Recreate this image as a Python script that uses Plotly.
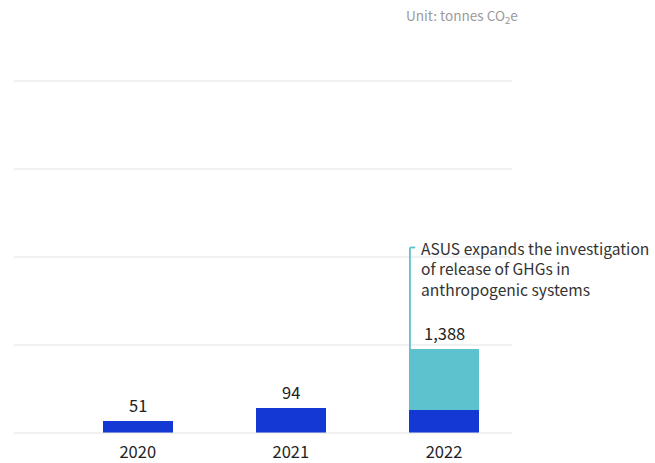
import math
import plotly.graph_objects as go

# GHG emissions by year (tonnes CO2e)
years = ["2020", "2021", "2022"]
base_emissions = [51, 94, 87]          # existing inventory scope
added_emissions = [0, 0, 1301]         # anthropogenic-system releases added in 2022
totals = [51, 94, 1388]
total_labels = ["51", "94", "1,388"]
callout_text = "ASUS expands the investigation<br>of release of GHGs in<br>anthropogenic systems"
unit_text = "Unit: tonnes CO<sub>2</sub>e"

DARK_BLUE = "#1338d3"
TEAL = "#5dc2ce"
GRID = "#e3e3e3"
FONT = "Noto Sans CJK JP"

W, H = 655, 463
ML, MR, MT, MB = 14, 143, 80.5, 29.5
plot_w = W - ML - MR
plot_h = H - MT - MB

bar_w = 0.457
y_lo, y_hi = 1.471, 8.489  # log10 axis range

fig = go.Figure()
fig.add_trace(go.Bar(x=years, y=base_emissions, width=bar_w,
                     marker=dict(color=DARK_BLUE, line=dict(width=0)),
                     hoverinfo="skip"))
fig.add_trace(go.Bar(x=years, y=added_emissions, width=bar_w,
                     marker=dict(color=TEAL, line=dict(width=0)),
                     hoverinfo="skip"))

# total labels above each stack (category index positions)
for i, (tot, lab) in enumerate(zip(totals, total_labels)):
    fig.add_annotation(x=i, y=math.log10(tot), text=lab, showarrow=False,
                       yanchor="bottom", yshift=2,
                       font=dict(family=FONT, size=16.5, color="#222222"))

# horizontal gridlines (evenly spaced, unlabeled)
shapes = []
for i in range(5):
    shapes.append(dict(type="line", xref="paper", yref="paper", x0=0, x1=1,
                       y0=i / 4, y1=i / 4, layer="above" if i == 0 else "below",
                       line=dict(color=GRID, width=1.2)))

# callout bracket on the 2022 bar
cx = 2 - bar_w / 2 + 0.006
shapes.append(dict(type="line", xref="x", yref="paper", x0=cx, x1=cx,
                   y0=0.161, y1=0.527, layer="above",
                   line=dict(color=TEAL, width=1.8)))
shapes.append(dict(type="line", xref="x", yref="paper", x0=cx, x1=cx + 0.035,
                   y0=0.527, y1=0.527, layer="above",
                   line=dict(color=TEAL, width=1.8)))

fig.add_annotation(x=cx, xref="x", xshift=9, xanchor="left",
                   y=0.527, yref="paper", yanchor="top", yshift=12,
                   text=callout_text, showarrow=False, align="left",
                   font=dict(family=FONT, size=15.6, color="#333333"))

fig.add_annotation(x=(520 - ML) / plot_w, xref="paper",
                   y=(H - MB - 15.5) / plot_h, yref="paper",
                   text=unit_text, showarrow=False, xanchor="right", yanchor="middle",
                   font=dict(family=FONT, size=13.6, color="#9a9a9a"))

fig.update_layout(
    width=W, height=H,
    margin=dict(l=ML, r=MR, t=MT, b=MB, autoexpand=False),
    paper_bgcolor="white", plot_bgcolor="white",
    barmode="stack", bargap=0, showlegend=False,
    shapes=shapes,
    font=dict(family=FONT, color="#333333"),
    xaxis=dict(type="category", range=[-0.808, 2.444], showgrid=False,
               zeroline=False, showline=False, ticks="", automargin=False,
               ticklabelstandoff=7,
               tickfont=dict(family=FONT, size=16.5, color="#222222"),
               fixedrange=True),
    yaxis=dict(type="log", range=[y_lo, y_hi], showgrid=False,
               zeroline=False, showline=False, showticklabels=False,
               ticks="", automargin=False, fixedrange=True),
)

fig.write_html("out.html", config={"displayModeBar": False})
